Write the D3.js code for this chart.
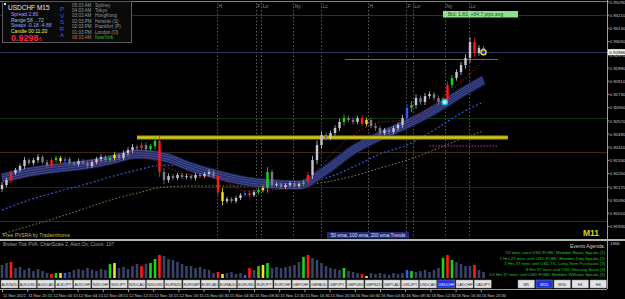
<!DOCTYPE html>
<html>
<head>
<meta charset="utf-8">
<script src="https://cdn.jsdelivr.net/npm/d3@7"></script>
<style>
body{margin:0;background:#000;}
svg{display:block;}
text{font-family:"Liberation Sans",Arial,sans-serif;}
</style>
</head>
<body>
<svg width="625" height="299"></svg>
<script>
var svg = d3.select('svg');

// ---- data (each bar here stands for ~3 M15 bars) ----
var firstOpen = 0.92157;
var closes = [0.92181,0.92211,0.92254,0.92272,0.92296,0.92332,0.92314,0.92332,0.92351,0.92320,
  0.92302,0.92332,0.92345,0.92326,0.92338,0.92314,0.92308,0.92326,0.92314,0.92296,
  0.92320,0.92338,0.92351,0.92332,0.92345,0.92363,0.92345,0.92375,0.92393,0.92411,
  0.92405,0.92423,0.92399,0.92417,0.92448,0.92260,0.92211,0.92235,0.92223,0.92242,
  0.92229,0.92235,0.92223,0.92242,0.92235,0.92248,0.92260,0.92235,0.92138,0.92084,
  0.92096,0.92084,0.92102,0.92120,0.92132,0.92120,0.92138,0.92151,0.92163,0.92260,
  0.92181,0.92187,0.92169,0.92181,0.92193,0.92175,0.92187,0.92199,0.92242,0.92332,
  0.92423,0.92484,0.92466,0.92496,0.92526,0.92563,0.92587,0.92575,0.92563,0.92587,
  0.92551,0.92575,0.92538,0.92526,0.92496,0.92514,0.92502,0.92526,0.92545,0.92587,
  0.92648,0.92666,0.92708,0.92684,0.92720,0.92732,0.92708,0.92684,0.92696,0.92787,
  0.92829,0.92866,0.92908,0.92951,0.93047,0.92981,0.93011,0.92986];
// wick length beyond the body, in points
var wicks = [18,14,16,12,14,18,12,14,16,12,14,12,14,12,14,12,12,14,12,14,
  12,14,16,12,14,16,12,14,16,19,14,16,14,12,24,30,24,16,14,12,
  12,14,12,14,12,12,16,14,22,26,14,12,14,12,12,14,12,14,14,30,
  16,12,14,12,12,14,12,14,18,24,26,22,16,14,16,19,22,14,16,14,
  16,14,14,16,14,12,14,14,16,19,22,24,22,16,19,16,14,16,19,22,
  19,16,19,22,30,24,16,12];
var barColor = {2:'r',11:'r',12:'g',13:'y',14:'b',24:'g',25:'y',31:'r',33:'g',34:'g',35:'r',
  48:'r',49:'y',54:'b',55:'r',57:'g',58:'y',59:'g',67:'g',68:'r',76:'g',80:'r',81:'y',
  90:'b',91:'g',98:'g',99:'r',100:'g',105:'r'};
var volumes = [690,795,850,530,585,425,530,370,480,370,265,210,265,265,265,320,425,480,425,530,
  425,370,480,425,740,795,530,585,480,635,740,635,740,795,1010,1220,1165,1010,955,850,
  740,635,635,530,585,480,425,265,320,210,265,320,210,265,160,530,425,635,690,795,
  530,585,530,585,635,690,850,1115,1220,1060,955,795,635,530,480,425,530,370,320,265,
  210,105,265,210,265,210,160,265,210,265,425,370,320,370,425,320,425,530,1060,1220,
  955,850,740,635,635,690,425,320];
var volMax = 1966;

var emaBars = [0,6,12,18,24,30,36,42,48,54,60,66,72,78,84,90,96,102,107];
var ribbon = [0.92223,0.92260,0.92284,0.92302,0.92332,0.92369,0.92351,0.92290,0.92242,0.92205,
  0.92187,0.92181,0.92272,0.92393,0.92478,0.92551,0.92635,0.92738,0.92817];
var ema100 = [0.92029,0.92090,0.92138,0.92181,0.92229,0.92272,0.92302,0.92290,0.92235,0.92211,
  0.92199,0.92199,0.92223,0.92290,0.92369,0.92423,0.92514,0.92617,0.92684];
var ema200 = [0.91884,0.91932,0.91981,0.92035,0.92090,0.92132,0.92169,0.92175,0.92175,0.92175,
  0.92175,0.92181,0.92199,0.92235,0.92284,0.92332,0.92393,0.92460,0.92508];
var emaFast = [0.92181,0.92242,0.92302,0.92314,0.92326,0.92375,0.92296,0.92242,0.92229,0.92145,
  0.92151,0.92181,0.92332,0.92484,0.92563,0.92575,0.92672,0.92805,0.92938];

var priceTicks = [0.93290,0.93210,0.93130,0.93050,0.92970,0.92890,0.92810,0.92730,0.92650,
  0.92570,0.92490,0.92410,0.92330,0.92250,0.92170,0.92090,0.92010,0.91930];
var levelPrices = [0.93211,0.92587,0.92381,0.92169,0.91963];
var levelColors = ['#4a2418','#0c3a0c','#3a2a10','#1a1f40','#3a2a14'];
var zonePrice = 0.92469, zoneBars = [30, 112.4];
var magentaPrice = 0.92417, magentaBars = [95, 110];
var grayPrice = 0.92944, grayBars = [76.2, 110.2];
var cyanPrice = 0.92684, cyanBar = 98.4;
var sessionNames = ['H','F','Lo','Ny','Lc','H','F','Lo','Ny','Lc'];
var sessionBars = [47.8,56.4,57.6,64.7,70.9,81.3,89.8,91.3,98.4,103.8];

var timeLabels = ['11 Nov 2021','11 Nov 20:15','12 Nov 00:15','12 Nov 04:15','12 Nov 08:15','12 Nov 12:15',
  '12 Nov 16:15','12 Nov 20:15','15 Nov 00:30','15 Nov 04:30','15 Nov 08:30','15 Nov 12:30',
  '15 Nov 16:30','15 Nov 20:30','16 Nov 00:30','16 Nov 04:30','16 Nov 08:30','16 Nov 12:30',
  '16 Nov 16:30','16 Nov 20:30'];
var timeBars = [0,5.6,11.2,16.8,22.4,28,33.6,39.2,44.8,50.4,56,61.6,67.2,72.8,78.4,84,89.6,95.2,100.8,106.4];

var symbols = ['AUDNZD','AUDUSD','AUDCAD','AUDJPY','AUDCHF','NZDCHF','NZDJPY','NZDCAD','NZDUSD',
  'EURNZD','EURGBP','EURCAD','EURAUD','EURUSD','EURJPY','EURCHF','GBPCHF','GBPAUD','GBPJPY',
  'GBPUSD','GBPNZD','GBPCAD','USDJPY','USDCAD','USDCHF','CADCHF','CADJPY'];
var frames = ['M5','M15','M30','H1','H4'];
var clocks = [['05:03 AM','Sydney'],['04:03 AM','Tokyo'],['03:03 AM','HongKong'],['02:03 PM','Helsinki (S)'],
  ['02:03 PM','Frankfurt (P)'],['01:03 PM','London (O)'],['08:03 AM','NewYork']];
var events = ['23 mins since USD FOMC Member Bostic Speaks  [1]',
  '1 Hrs 27 mins until USD FOMC Member Daly Speaks  [2]',
  '1 Hrs 57 mins until USD TIC Long-Term Purchases  [3]',
  '8 Hrs 27 mins until USD Housing Starts  [4]',
  'D1 Hrs 57 mins until USD FOMC Member Williams Speaks  [5]'];

// ---- layout ----
var axisX = 607;
var mainTop = 0, mainBottom = 238;
var subTop = 241, subBottom = 278;

var x = d3.scaleLinear().domain([0, 107]).range([2, 483.5]);
var y = d3.scaleLinear().domain([0.91860, 0.93302]).range([mainBottom, mainTop]);
var vy = d3.scaleLinear().domain([0, volMax]).range([subBottom, subTop]);
var pt = 0.00001;

var colorMap = {r:'#ff1a1a', g:'#19d619', b:'#2b5cff', y:'#f2e424'};

var bars = closes.map(function(c, i) {
  var o = i === 0 ? firstOpen : closes[i-1];
  return {i: i, o: o, c: c, h: Math.max(o, c) + wicks[i]*pt, l: Math.min(o, c) - wicks[i]*pt,
    v: volumes[i], col: barColor[i]};
});

// frame lines
svg.append('line').attr('x1', 0).attr('x2', axisX).attr('y1', 1.5).attr('y2', 1.5)
  .attr('stroke', '#808080').attr('stroke-width', 1);
svg.append('line').attr('x1', axisX + 0.5).attr('x2', axisX + 0.5).attr('y1', 0).attr('y2', 289)
  .attr('stroke', '#a0a0a0').attr('stroke-width', 1);

var chartG = svg.append('g');

// horizontal level lines
chartG.selectAll('.level').data(levelPrices).enter().append('line')
  .attr('x1', 0).attr('x2', axisX)
  .attr('y1', function(d){ return Math.round(y(d)) + 0.5; })
  .attr('y2', function(d){ return Math.round(y(d)) + 0.5; })
  .attr('stroke', function(d, i){ return levelColors[i]; })
  .attr('stroke-width', 1);

// session separators
chartG.selectAll('.sess').data(sessionBars).enter().append('line')
  .attr('x1', function(d){ return Math.round(x(d)) + 0.5; })
  .attr('x2', function(d){ return Math.round(x(d)) + 0.5; })
  .attr('y1', 3).attr('y2', mainBottom)
  .attr('stroke', '#5a5a5a').attr('stroke-dasharray', '1.5,2');
chartG.selectAll('.sessLabel').data(sessionBars).enter().append('text')
  .attr('x', function(d){ return x(d) + 1.5; })
  .attr('y', 8)
  .attr('fill', '#8a8a8a').attr('font-size', 5)
  .text(function(d, i){ return sessionNames[i]; });

// ema lines
var line = d3.line().x(function(d){ return x(d[0]); }).y(function(d){ return y(d[1]); })
  .curve(d3.curveMonotoneX);
function pairs(vals){ return emaBars.map(function(b, i){ return [b, vals[i]]; }); }

chartG.append('path').datum(pairs(ema200)).attr('d', line)
  .attr('fill', 'none').attr('stroke', '#8c8a4a').attr('stroke-width', 1).attr('stroke-dasharray', '1.5,2');
chartG.append('path').datum(pairs(ema100)).attr('d', line)
  .attr('fill', 'none').attr('stroke', '#3553d8').attr('stroke-width', 1.2).attr('stroke-dasharray', '2,2');

// blue ribbon made of stacked lines
[[10, '#161b48'], [8, '#222a68']].forEach(function(s) {
  chartG.append('path').datum(pairs(ribbon)).attr('d', line)
    .attr('fill', 'none').attr('stroke', s[1]).attr('stroke-width', s[0]);
});
[-3.5, -1.2, 1.2, 3.5].forEach(function(off) {
  chartG.append('path').datum(pairs(ribbon)).attr('d', line)
    .attr('transform', 'translate(0,' + off + ')')
    .attr('fill', 'none').attr('stroke', '#5a64a8').attr('stroke-width', 0.6);
});

chartG.append('path').datum(pairs(emaFast)).attr('d', line)
  .attr('fill', 'none').attr('stroke', '#b01818').attr('stroke-width', 1).attr('stroke-dasharray', '1.5,2');

// yellow zone line
chartG.append('line')
  .attr('x1', x(zoneBars[0])).attr('x2', x(zoneBars[1]))
  .attr('y1', y(zonePrice)).attr('y2', y(zonePrice))
  .attr('stroke', '#6e6a08').attr('stroke-width', 4.5);
chartG.append('line')
  .attr('x1', x(zoneBars[0])).attr('x2', x(zoneBars[1]))
  .attr('y1', y(zonePrice)).attr('y2', y(zonePrice))
  .attr('stroke', '#cfc41a').attr('stroke-width', 2.5);

// magenta dotted and gray level
chartG.append('line')
  .attr('x1', x(magentaBars[0])).attr('x2', x(magentaBars[1]))
  .attr('y1', y(magentaPrice)).attr('y2', y(magentaPrice))
  .attr('stroke', '#c030c0').attr('stroke-width', 1).attr('stroke-dasharray', '1.5,1.5');
chartG.append('line')
  .attr('x1', x(grayBars[0])).attr('x2', x(grayBars[1]))
  .attr('y1', Math.round(y(grayPrice)) + 0.5).attr('y2', Math.round(y(grayPrice)) + 0.5)
  .attr('stroke', '#6a6a6a').attr('stroke-width', 1);

// bid line
var last = bars[bars.length - 1];
chartG.append('line').attr('x1', 0).attr('x2', axisX)
  .attr('y1', Math.round(y(last.c)) + 0.5).attr('y2', Math.round(y(last.c)) + 0.5)
  .attr('stroke', '#2e3658').attr('stroke-width', 1);

// candles
function candleFill(d) {
  if (d.col) return colorMap[d.col];
  return d.c >= d.o ? '#c6c6d0' : '#7c7c88';
}
var candle = chartG.selectAll('.candle').data(bars).enter().append('g');
candle.append('line')
  .attr('x1', function(d){ return x(d.i); }).attr('x2', function(d){ return x(d.i); })
  .attr('y1', function(d){ return y(d.h); }).attr('y2', function(d){ return y(d.l); })
  .attr('stroke', candleFill).attr('stroke-width', 0.8);
candle.append('rect')
  .attr('x', function(d){ return x(d.i) - 1.2; })
  .attr('width', 2.4)
  .attr('y', function(d){ return y(Math.max(d.o, d.c)); })
  .attr('height', function(d){ return Math.max(0.8, Math.abs(y(d.o) - y(d.c))); })
  .attr('fill', candleFill);

// markers at the last bars
chartG.append('circle').attr('cx', x(cyanBar)).attr('cy', y(cyanPrice)).attr('r', 2.6)
  .attr('fill', '#e8ffff').attr('stroke', '#19c8e0').attr('stroke-width', 1.5);
chartG.append('circle').attr('cx', x(107)).attr('cy', y(last.c)).attr('r', 2.6)
  .attr('fill', '#1a30d0').attr('stroke', '#f2e424').attr('stroke-width', 1.3);

// green box at the top
svg.append('rect').attr('x', 443).attr('y', 11).attr('width', 75).attr('height', 6.5).attr('fill', '#8fe08f');
svg.append('text').attr('x', 448).attr('y', 16.2).attr('font-size', 5).attr('fill', '#1f5a1f')
  .text('Bid: 1.83, +84.7 pips avg');

// price axis
svg.selectAll('.ptick').data(priceTicks).enter().append('text')
  .attr('x', 609.5).attr('y', function(d){ return y(d) + 1.8; })
  .attr('font-size', 4.4).attr('fill', '#c8c8c8')
  .text(function(d){ return d.toFixed(5); });
svg.selectAll('.ptickm').data(priceTicks).enter().append('line')
  .attr('x1', axisX).attr('x2', axisX + 2)
  .attr('y1', function(d){ return y(d); }).attr('y2', function(d){ return y(d); })
  .attr('stroke', '#a0a0a0');
svg.append('rect').attr('x', 608).attr('y', y(last.c) - 3).attr('width', 17).attr('height', 6).attr('fill', '#f0f0f0');
svg.append('text').attr('x', 609.3).attr('y', y(last.c) + 1.8).attr('font-size', 4.4).attr('fill', '#000')
  .text(last.c.toFixed(5));

// info panel
var info = svg.append('g');
info.append('rect').attr('x', 2.5).attr('y', 1.5).attr('width', 129).attr('height', 41)
  .attr('fill', '#0a0a0a').attr('stroke', '#5a5a5a');
info.append('rect').attr('x', 4).attr('y', 3).attr('width', 2).attr('height', 2).attr('fill', '#e0e0e0');
info.append('text').attr('x', 8).attr('y', 10).attr('font-size', 6.5).attr('fill', '#e8e8e8').text('USDCHF  M15');
var rows = [['Spread  2.80', '#c48cff'], ['Range  58  ...72', '#8fc4ff'], ['Swaps  -0.18  -4.88', '#8aa8ff'], ['Candle  00:11:20', '#f0f060']];
rows.forEach(function(r, i) {
  info.append('text').attr('x', 11).attr('y', 16 + i * 5.6).attr('font-size', 5).attr('fill', r[1]).text(r[0]);
});
info.append('text').attr('x', 11).attr('y', 41).attr('font-size', 9).attr('font-weight', 'bold')
  .attr('fill', '#ff2040').text('0.9298');
info.append('text').attr('x', 39).attr('y', 40.5).attr('font-size', 5).attr('fill', '#ff2040').text('6');
'PVSRA'.split('').forEach(function(ch, i) {
  info.append('text').attr('x', 62).attr('y', 11 + i * 6.6).attr('font-size', 6.2)
    .attr('fill', '#3a5cff').attr('text-anchor', 'middle').text(ch);
});
clocks.forEach(function(c, i) {
  info.append('text').attr('x', 72).attr('y', 6.5 + i * 5.4).attr('font-size', 4.6)
    .attr('fill', i === 6 ? '#c87840' : '#9a9a9a').text(c[0]);
  info.append('text').attr('x', 95).attr('y', 6.5 + i * 5.4).attr('font-size', 4.6)
    .attr('fill', i === 6 ? '#20c020' : '#9a9a9a').text(c[1]);
});

// bottom overlay texts on the main chart
svg.append('text').attr('x', 3).attr('y', 237).attr('font-size', 5).attr('fill', '#c8b850')
  .text('Free PVSRA by Tradeinthome');
svg.append('rect').attr('x', 327).attr('y', 232).attr('width', 82).attr('height', 6.5).attr('fill', '#1e2c78');
svg.append('text').attr('x', 368).attr('y', 237).attr('font-size', 4.8).attr('fill', '#e0e0f0')
  .attr('text-anchor', 'middle').text('50 ema, 100 ema, 200 ema Trends');
svg.append('text').attr('x', 583).attr('y', 235.5).attr('font-size', 8.5).attr('font-weight', 'bold')
  .attr('fill', '#e0d020').text('M11');

// separator
svg.append('rect').attr('x', 0).attr('y', 239).attr('width', 625).attr('height', 2).attr('fill', '#b4b4b4');

// sub-window volume bars
svg.append('text').attr('x', 3).attr('y', 246).attr('font-size', 4.8).attr('fill', '#a0a0a0')
  .text('Broker Tick PVA:  ChartScale 2,  Alert On,  Count: 107');
svg.selectAll('.vol').data(bars).enter().append('rect')
  .attr('x', function(d){ return x(d.i) - 1.3; })
  .attr('width', 2.6)
  .attr('y', function(d){ return vy(d.v); })
  .attr('height', function(d){ return vy(0) - vy(d.v); })
  .attr('fill', function(d){ return d.col ? colorMap[d.col] : '#3a4268'; });
svg.append('text').attr('x', 610).attr('y', 245).attr('font-size', 4.4).attr('fill', '#c8c8c8').text(volMax);

svg.append('text').attr('x', 605).attr('y', 248).attr('font-size', 5).attr('fill', '#d0d0d0')
  .attr('text-anchor', 'end').text('Events Agenda:');
events.forEach(function(e, i) {
  svg.append('text').attr('x', 605).attr('y', 254 + i * 5.5).attr('font-size', 4.2).attr('fill', '#22c822')
    .attr('text-anchor', 'end').text(e);
});

// buttons
var btn = svg.selectAll('.btn').data(symbols).enter().append('g')
  .attr('transform', function(d, i){ return 'translate(' + (1 + i * 18.2) + ',280)'; });
btn.append('rect').attr('width', 17).attr('height', 8)
  .attr('fill', function(d){ return d === 'USDCHF' ? '#2030e0' : '#e4e4e4'; })
  .attr('stroke', '#8a8a8a').attr('stroke-width', 0.5);
btn.append('text').attr('x', 8.5).attr('y', 5.6).attr('text-anchor', 'middle').attr('font-size', 3.8)
  .attr('fill', function(d){ return d === 'USDCHF' ? '#ffffff' : '#202020'; }).text(function(d){ return d; });

var fb = svg.selectAll('.fbtn').data(frames).enter().append('g')
  .attr('transform', function(d, i){ return 'translate(' + (518 + i * 18) + ',280)'; });
fb.append('rect').attr('width', 16.5).attr('height', 8)
  .attr('fill', function(d){ return d === 'M15' ? '#2030e0' : '#e4e4e4'; })
  .attr('stroke', '#8a8a8a').attr('stroke-width', 0.5);
fb.append('text').attr('x', 8.25).attr('y', 5.6).attr('text-anchor', 'middle').attr('font-size', 4)
  .attr('fill', function(d){ return d === 'M15' ? '#ffffff' : '#202020'; }).text(function(d){ return d; });

// time axis
svg.append('line').attr('x1', 0).attr('x2', axisX).attr('y1', 289.5).attr('y2', 289.5).attr('stroke', '#a0a0a0');
svg.selectAll('.tt').data(timeBars).enter().append('line')
  .attr('x1', function(d){ return x(d) + 0.5; }).attr('x2', function(d){ return x(d) + 0.5; })
  .attr('y1', 289.5).attr('y2', 292).attr('stroke', '#a0a0a0');
svg.selectAll('.tl').data(timeBars).enter().append('text')
  .attr('x', function(d){ return x(d) + 1; }).attr('y', 297)
  .attr('font-size', 4.1).attr('fill', '#c8c8c8')
  .text(function(d, i){ return timeLabels[i]; });
</script>
</body>
</html>
